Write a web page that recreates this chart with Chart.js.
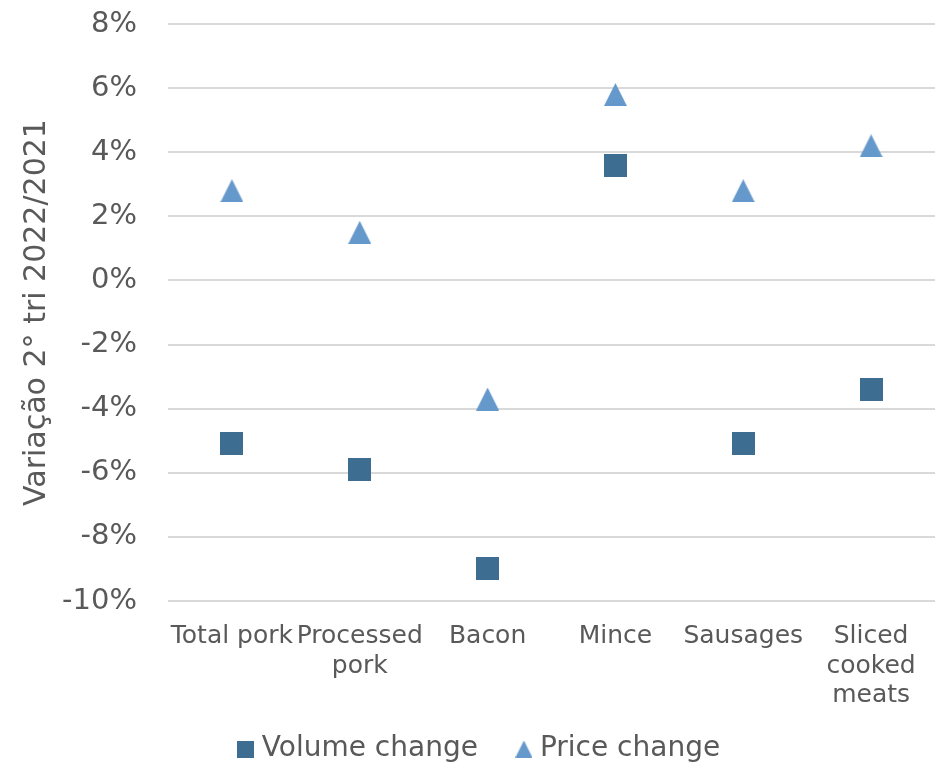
<!DOCTYPE html>
<html>
<head>
<meta charset="utf-8">
<title>Pork volume and price change</title>
<script src="https://cdn.jsdelivr.net/npm/chart.js@4/dist/chart.umd.min.js"></script>
<style>
    body { margin: 0; background: #ffffff; }
    #wrap { width: 940px; height: 763px; }
</style>
</head>
<body>
<div id="wrap"><canvas id="pork-chart" width="940" height="763"></canvas></div>
<script>
// Categories and series
const categories = ['Total pork', ['Processed', 'pork'], 'Bacon', 'Mince', 'Sausages', ['Sliced', 'cooked', 'meats']];
const volumeChange = [-5.1, -5.9, -9.0, 3.6, -5.1, -3.4];
const priceChange = [2.8, 1.5, -3.7, 5.8, 2.8, 4.2];
const yMin = -10;
const yMax = 8;
const yStep = 2;

const textColor = '#595959';
const volumeColor = '#3d6e91';
const priceColor = '#6598cb';
const fontFamily = '"DejaVu Sans", Verdana, sans-serif';

// Marker images (Excel-style square and triangle)
function makeSquare(size, color) {
    const c = document.createElement('canvas');
    c.width = size;
    c.height = size;
    const ctx = c.getContext('2d');
    ctx.fillStyle = color;
    ctx.fillRect(0, 0, size, size);
    return c;
}

function makeTriangle(size, color) {
    const c = document.createElement('canvas');
    c.width = size;
    c.height = size;
    const ctx = c.getContext('2d');
    ctx.fillStyle = color;
    ctx.beginPath();
    ctx.moveTo(size / 2, 0);
    ctx.lineTo(size, size);
    ctx.lineTo(0, size);
    ctx.closePath();
    ctx.fill();
    return c;
}

const squareMark = makeSquare(23, volumeColor);
const triangleMark = makeTriangle(23, priceColor);
const legendMarks = [makeSquare(17, volumeColor), makeTriangle(17, priceColor)];

// The x axis is kept short so the legend can sit close to it,
// but its labels need room below that box (they are clipped to it)
const xLabelRoom = {
    id: 'xLabelRoom',
    afterLayout(chart) {
        const x = chart.scales.x;
        x.bottom = x.top + 120;
        x.height = 120;
    }
};

const ctx = document.getElementById('pork-chart').getContext('2d');

new Chart(ctx, {
    type: 'line',
    data: {
        labels: categories,
        datasets: [
            {
                label: 'Volume change',
                data: volumeChange,
                showLine: false,
                pointStyle: squareMark,
                backgroundColor: volumeColor,
                borderColor: volumeColor
            },
            {
                label: 'Price change',
                data: priceChange,
                showLine: false,
                pointStyle: triangleMark,
                backgroundColor: priceColor,
                borderColor: priceColor
            }
        ]
    },
    options: {
        responsive: false,
        animation: false,
        events: [],
        layout: {
            padding: { top: 24, right: 5, bottom: -10, left: 29 }
        },
        scales: {
            x: {
                offset: true,
                grid: { display: false },
                border: { display: false },
                ticks: {
                    color: textColor,
                    padding: 13,
                    maxRotation: 0,
                    autoSkip: false,
                    font: { family: fontFamily, size: 25, lineHeight: 1.18 }
                },
                afterFit: scale => {
                    scale.height = 90;
                    scale.paddingLeft = 0;
                    scale.paddingRight = 0;
                }
            },
            y: {
                min: yMin,
                max: yMax,
                border: { display: false },
                grid: {
                    color: '#d9d9d9',
                    lineWidth: 2,
                    drawTicks: false
                },
                ticks: {
                    stepSize: yStep,
                    color: textColor,
                    padding: 31,
                    font: { family: fontFamily, size: 29 },
                    callback: value => value + '%'
                },
                title: {
                    display: true,
                    text: 'Variação 2° tri 2022/2021',
                    color: textColor,
                    padding: { top: -10, bottom: 0 },
                    font: { family: fontFamily, size: 30, weight: 'normal' }
                },
                afterFit: scale => {
                    scale.width = 139;
                    scale.paddingTop = 0;
                    scale.paddingBottom = 0;
                }
            }
        },
        plugins: {
            tooltip: { enabled: false },
            legend: {
                position: 'bottom',
                labels: {
                    usePointStyle: true,
                    pointStyleWidth: 4,
                    padding: 44,
                    color: textColor,
                    font: { family: fontFamily, size: 28 },
                    generateLabels: chart => {
                        const items = Chart.defaults.plugins.legend.labels.generateLabels(chart);
                        items.forEach((item, i) => { item.pointStyle = legendMarks[i]; });
                        return items;
                    }
                }
            }
        }
    },
    plugins: [xLabelRoom]
});
</script>
</body>
</html>
